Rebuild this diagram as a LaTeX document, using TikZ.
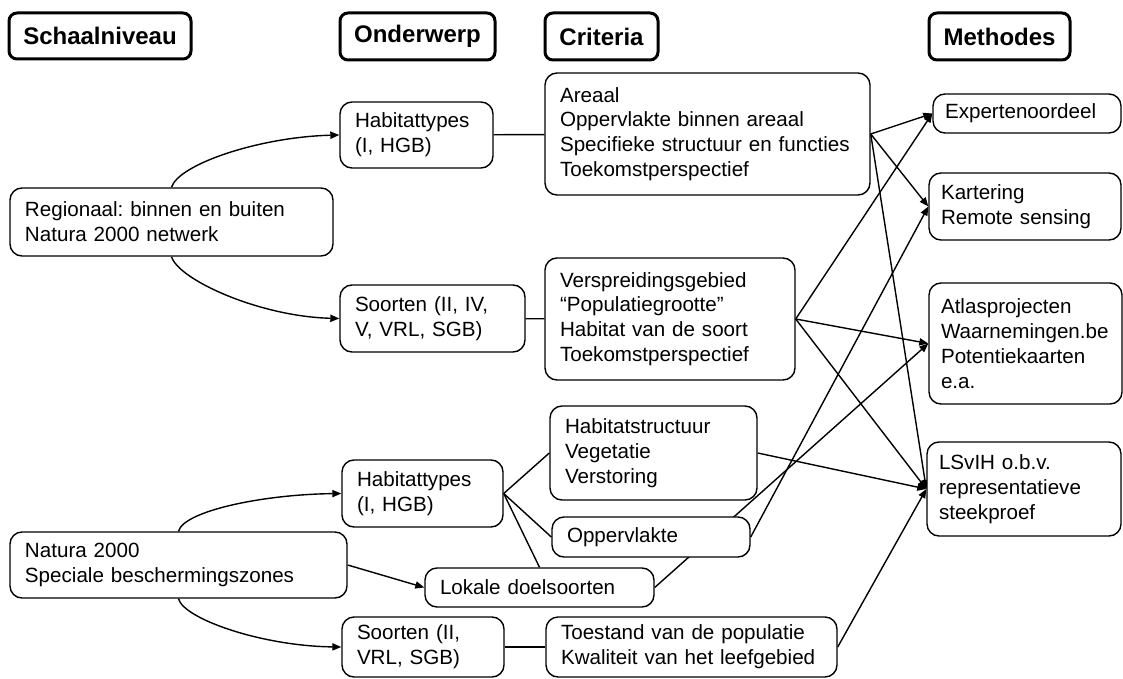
\documentclass[tikz,border=0pt]{standalone}
\usepackage{fontspec}
\setmainfont{Liberation Sans}
\usetikzlibrary{arrows.meta, backgrounds}
\hyphenpenalty=10000
\frenchspacing

\begin{document}
\begin{tikzpicture}[
    x=0.5pt, y=-0.5pt,
    head/.style={rectangle, draw, line width=1.5pt, rounded corners=4pt, inner sep=0pt, font=\fontsize{12}{14}\selectfont\bfseries},
    box/.style={rectangle, draw, line width=0.7pt, rounded corners=6pt, fill=white, align=left, inner xsep=7.5pt, inner ysep=0pt, font=\fontsize{10.3}{12.4}\selectfont},
    method/.style={box, inner xsep=6pt},
    arrow/.style={-{Triangle[length=4.5pt, width=3.6pt]}, line width=0.7pt},
    link/.style={line width=0.7pt},
]

\useasboundingbox (0, 0) rectangle (1123, 679);

\node[head, minimum width=91pt, minimum height=23pt] (hschaal) at (100, 36) {Schaalniveau};
\node[head, minimum width=77.5pt, minimum height=23.5pt] (honder) at (417.5, 36.5) {Onderwerp};
\node[head, minimum width=56.5pt, minimum height=23.5pt] (hcrit) at (601.5, 36.5) {Criteria};
\node[head, minimum width=70.5pt, minimum height=23.5pt] (hmeth) at (999.5, 36.5) {Methodes};

\node[box, text width=146.5pt, minimum height=34pt] (regio) at (171.5, 222) {Regionaal: binnen en buiten\\Natura 2000 netwerk};
\node[box, text width=153.5pt, minimum height=33pt] (natura) at (178.5, 565) {Natura 2000\\Speciale beschermingszones};

\node[box, text width=61.5pt, minimum height=33pt] (habreg) at (416.5, 135) {Habitattypes\\(I, HGB)};
\node[box, text width=77.5pt, minimum height=33.5pt] (soorreg) at (432.5, 318.5) {Soorten (II, IV,\\V, VRL, SGB)};
\node[box, text width=65.5pt, minimum height=33.5pt] (habnat) at (422.5, 493.5) {Habitattypes\\(I, HGB)};
\node[box, text width=99.5pt, minimum height=19.5pt] (lokaal) at (539.5, 587.5) {Lokale doelsoorten};
\node[box, text width=66pt, minimum height=30pt] (soornat) at (423, 647) {Soorten (II,\\VRL, SGB)};

\node[box, text width=147.5pt, minimum height=61pt] (areaal) at (707.5, 134) {Areaal\\Oppervlakte binnen areaal\\Specifieke structuur en functies\\Toekomstperspectief};
\node[box, text width=110pt, minimum height=61pt] (versp) at (670, 319) {Verspreidingsgebied\\“Populatiegrootte”\\Habitat van de soort\\Toekomstperspectief};
\node[box, text width=88.5pt, minimum height=47pt] (habstr) at (653.5, 453) {Habitatstructuur\\Vegetatie\\Verstoring};
\node[box, text width=84pt, minimum height=20pt] (opp) at (651, 537) {Oppervlakte};
\node[box, text width=130.5pt, minimum height=30pt] (toest) at (691.5, 647) {Toestand van de populatie\\Kwaliteit van het leefgebied};

\node[method, text width=82pt, minimum height=19.5pt] (expert) at (1027, 113.5) {Expertenoordeel};
\node[method, text width=84pt, minimum height=33.5pt] (kart) at (1025, 206.5) {Kartering\\Remote sensing};
\node[method, text width=84.5pt, minimum height=60.5pt] (atlas) at (1025.5, 343.5) {Atlasprojecten\\Waarnemingen.be\\Potentiekaarten\\e.a.};
\node[method, text width=85pt, minimum height=47pt] (lsvih) at (1024, 489) {LSvIH o.b.v.\\representatieve\\steekproef};

\begin{scope}[on background layer]
\draw[arrow] (regio.north) .. controls +(7, -23) and +(-80, 2) .. (habreg.west);
\draw[arrow] (regio.south) .. controls +(7, 23) and +(-80, -2) .. (soorreg.west);
\draw[arrow] (natura.north) .. controls +(5, -20) and +(-80, 1) .. (habnat.west);
\draw[arrow] (natura.south) .. controls +(5, 20) and +(-80, -1) .. (soornat.west);
\draw[arrow] (natura.east) -- (lokaal.west);

\draw[link] (habreg) -- (areaal);
\draw[link] (soorreg) -- (versp);
\draw[link] (soornat) -- (toest);
\draw[link] (habnat.east) -- (habstr.west);
\draw[link] (habnat.east) -- (opp.west);
\draw[link] (habnat.east) -- (lokaal.north);

\draw[arrow] (areaal.east) -- (expert.west);
\draw[arrow] (areaal.east) -- (kart.west);
\draw[arrow] (areaal.east) -- (lsvih.west);
\draw[arrow] (versp.east) -- (expert.west);
\draw[arrow] (versp.east) -- (atlas.west);
\draw[arrow] (versp.east) -- (lsvih.west);
\draw[arrow] (habstr.east) -- (lsvih.west);
\draw[arrow] (opp.east) -- (kart.west);
\draw[arrow] (lokaal.east) -- (atlas.west);
\draw[arrow] (toest.east) -- (lsvih.west);
\end{scope}

\end{tikzpicture}
\end{document}
